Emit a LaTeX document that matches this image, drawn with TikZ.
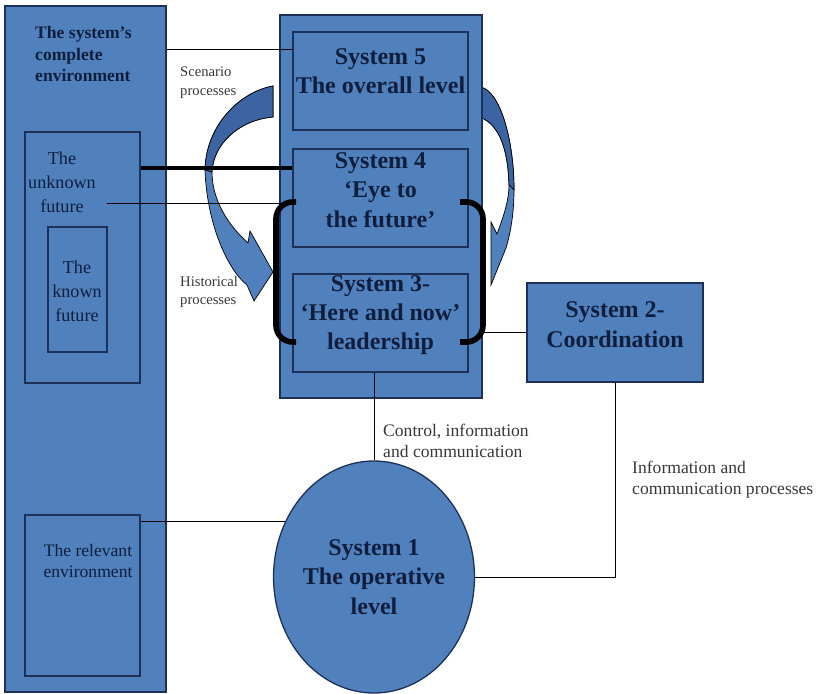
\documentclass[tikz,border=0pt]{standalone}
\usepackage{fontspec}
\setmainfont{Liberation Serif}
\usetikzlibrary{fit,shapes.geometric}
\definecolor{vsmblue}{RGB}{80,129,189}
\definecolor{vsmshade}{RGB}{60,100,162}
\definecolor{vsmline}{RGB}{28,48,88}
\definecolor{vsmtext}{RGB}{16,30,62}
\definecolor{vsmgrey}{RGB}{55,55,55}

\begin{document}
\begin{tikzpicture}[x=0.03cm,y=-0.03cm]

\tikzstyle{panel} = [rectangle, draw=vsmline, fill=vsmblue, line width=0.9pt, inner sep=0pt]
\tikzstyle{systext} = [text=vsmtext, font=\fontsize{20.5}{25}\selectfont\bfseries, align=center, inner sep=0pt]
\tikzstyle{sq} = [panel, systext, line width=1.1pt]
\tikzstyle{note} = [text=vsmgrey, align=left, inner sep=0pt]
\tikzstyle{inner} = [text=vsmtext, align=center, inner sep=0pt, font=\fontsize{15.5}{20.5}\selectfont]
\tikzstyle{bracket} = [line width=4.8pt, rounded corners=0.5cm]
\tikzstyle{flow} = [draw=black, line width=0.6pt, fill=vsmblue]
\tikzstyle{link} = [line width=0.6pt]

\useasboundingbox (0,0) rectangle (819,693);

\node (env) [panel, fit={(5,6) (166,692)}] {};
\node (unknown) [panel, fit={(25,132) (140,383)}] {};
\node (known) [panel, fit={(48,227) (107,352)}] {};
\node (rel) [panel, fit={(25,515) (140,676)}] {};

\node (envtitle) [inner, align=left, anchor=west, font=\fontsize{15}{18}\selectfont\bfseries] at (35,54) {The system’s\\complete\\environment};
\node (unknowntext) [inner] at (62,182) {The\\unknown\\future};
\node (knowntext) [inner] at (77,291) {The\\known\\future};
\node (reltext) [inner, font=\fontsize{15}{18}\selectfont] at (88,561) {The relevant\\environment};

\draw[flow] (273,86) .. controls (240,92) and (206,125) .. (205,170)
  .. controls (207,225) and (228,270) .. (247,285) -- (254,301) -- (273,272)
  -- (250,231) -- (248,243) .. controls (228,225) and (212,200) .. (212,172)
  .. controls (213,145) and (238,120) .. (273,117) -- cycle;
\draw[flow, fill=vsmshade] (273,86) .. controls (240,92) and (206,125) .. (205,170)
  -- (212,172) .. controls (213,145) and (238,120) .. (273,117) -- cycle;
\draw[flow] (480,87) .. controls (500,90) and (514,140) .. (514,190)
  .. controls (514,215) and (510,235) .. (506,248) -- (491,285) -- (491,222)
  -- (497,234) .. controls (504,215) and (509,200) .. (509,185)
  .. controls (508,150) and (500,125) .. (480,117) -- cycle;
\draw[flow, fill=vsmshade] (480,87) .. controls (500,90) and (514,140) .. (514,190)
  -- (509,185) .. controls (508,150) and (500,125) .. (480,117) -- cycle;

\node (centre) [panel, fit={(280,15) (482,398)}] {};
\node (sys5) [sq, fit={(293,32) (468,130)}] {};
\node (sys5text) [systext] at (380.5,71) {System 5\\The overall level};
\node (sys4) [sq, fit={(293,149) (468,247)}] {System 4\\‘Eye to\\the future’};
\node (sys3) [sq, fit={(293,274) (468,372)}] {System 3-\\‘Here and now’\\leadership};
\node (sys2) [sq, fit={(527,283) (703,382)}] {System 2-\\Coordination};
\node (sys1) [sq, ellipse, minimum width=5.64cm, minimum height=6.96cm] at (374,577) {System 1\\The operative\\level};

\node (scen) [note, anchor=west, font=\fontsize{12.5}{16}\selectfont] at (180,83) {Scenario\\processes};
\node (hist) [note, anchor=west, font=\fontsize{12.5}{16}\selectfont] at (180,292) {Historical\\processes};
\node (ctrl) [note, anchor=west, font=\fontsize{15}{18}\selectfont] at (383,441) {Control, information\\and communication};
\node (info) [note, anchor=west, font=\fontsize{15}{18}\selectfont] at (632,480) {Information and\\communication processes};

\draw[link] (sys5.160) -- (sys5.160 -| env.east);
\draw[line width=3.5pt] (sys4.161) -- (sys4.161 -| unknown.east);
\coordinate (futend) at (107,203);
\draw[link] (futend) -- (futend -| sys4.west);
\draw[link] (sys2.west) -- (sys2.west -| centre.east);
\draw[link] (sys1.north) -- (sys1.north |- sys3.south);
\draw[link] (sys2.south) |- (sys1.east);
\draw[link] (sys1.148) -- (sys1.148 -| rel.east);

\draw[bracket] (296,202) -- (276,202) -- (276,342) -- (296,342);
\draw[bracket] (460,202) -- (483,202) -- (483,342) -- (460,342);
\end{tikzpicture}
\end{document}
